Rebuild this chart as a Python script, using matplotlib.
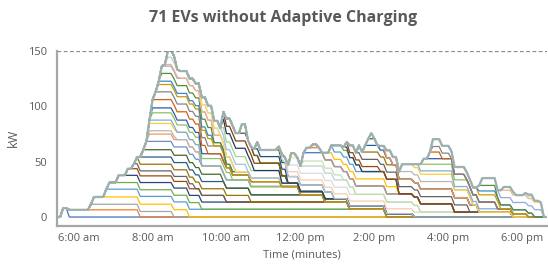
"""
Stacked charging power of each EV over one day, uncontrolled charging.
Each EV draws a fixed rate from plug-in until it is full; lines are the
running sum of EVs in arrival order, so the top line is the site total.
"""
import numpy as np
import matplotlib
matplotlib.use("Agg")
import matplotlib.pyplot as plt

# one entry per EV, in arrival order (minutes after midnight)
arrive = [333, 342, 376, 382, 403, 409, 425, 438, 447, 455,
          457, 465, 468, 471, 472, 474, 475, 476, 477, 480,
          482, 487, 488, 492, 495, 497, 501, 503, 560, 593,
          594, 595, 600, 625, 642, 650, 683, 690, 700, 702,
          705, 722, 722, 728, 738, 760, 768, 773, 790, 792,
          800, 812, 822, 830, 832, 850, 858, 882, 905, 915,
          916, 930, 933, 935, 1006, 1006, 1012, 1045, 1050, 1085,
          1090]
finish = [342, 457, 514, 540, 860, 557, 800, 600, 548, 640,
          760, 592, 720, 557, 520, 560, 518, 606, 690, 568,
          600, 579, 905, 576, 614, 522, 590, 519, 633, 690,
          645, 700, 655, 633, 698, 775, 692, 1063, 915, 810,
          712, 790, 968, 752, 746, 880, 880, 820, 798, 850,
          995, 1010, 870, 842, 840, 856, 1000, 968, 1087, 1038,
          990, 949, 963, 1045, 1098, 1036, 1112, 1114, 1070, 1096,
          1110]
power_kw = [8.0, 6.5, 5.0, 6.6, 7.0, 6.0, 6.5, 6.0, 4.5, 6.0,
            6.5, 6.6, 7.5, 6.6, 3.0, 6.6, 3.0, 6.6, 4.4, 7.5,
            7.0, 6.6, 3.0, 7.0, 6.6, 1.5, 6.5, 6.0, 6.6, 7.0,
            7.5, 6.6, 7.0, 8.0, 6.0, 6.0, 3.0, 4.4, 6.0, 6.6,
            4.0, 4.5, 7.5, 4.5, 3.0, 6.5, 6.6, 6.0, 3.0, 4.5,
            6.5, 6.6, 6.0, 6.0, 5.0, 4.0, 7.0, 6.6, 3.0, 6.0,
            5.0, 6.0, 5.0, 6.6, 3.5, 5.0, 6.6, 6.6, 3.0, 2.0,
            1.5]

tick_minutes = [360, 480, 600, 720, 840, 960, 1080]
tick_labels = ["6:00 am", "8:00 am", "10:00 am", "12:00 pm",
               "2:00 pm", "4:00 pm", "6:00 pm"]
y_ticks = [0, 50, 100, 150]
capacity_kw = 150

# Office-style series colours, cycled like a spreadsheet chart does
PALETTE = [
    "#4472C4", "#ED7D31", "#A5A5A5", "#FFC000", "#5B9BD5", "#70AD47",
    "#264478", "#9E480E", "#636363", "#997300", "#255E91", "#43682B",
    "#698ED0", "#F1975A", "#B7B7B7", "#FFCD33", "#7CAFDD", "#8CC168",
    "#335AA1", "#D26012", "#848484", "#CC9A00", "#3C86C6", "#5A8A39",
    "#8FAADC", "#F4B183", "#C9C9C9", "#FFD966", "#9DC3E6", "#A9D18E",
    "#203864", "#843C0C", "#525252", "#7F6000", "#1F4E79", "#385723",
    "#B4C7E7", "#F8CBAD", "#DBDBDB", "#FFE699", "#BDD7EE", "#C5E0B4",
]
TEXT = "#595959"
plt.rcParams["font.family"] = ["Open Sans", "DejaVu Sans"]

t_min, t_max = 325, 1120
t = np.arange(t_min, t_max + 1, 5)
arr = np.asarray(arrive)[:, None]
fin = np.asarray(finish)[:, None]
kw = np.asarray(power_kw)[:, None]
charging = (t[None, :] >= arr) & (t[None, :] < fin)
stacked = np.cumsum(charging * kw, axis=0)

fig = plt.figure(figsize=(5.48, 2.64), dpi=100)
ax = fig.add_axes([57 / 548, 38 / 264, 490 / 548, 175.3 / 264])

for i, row in enumerate(stacked[:-1]):
    ax.plot(t, row, color=PALETTE[i % len(PALETTE)], lw=0.9)
ax.plot(t, stacked[-1], color="#9DC3E6", lw=1.7)
ax.plot(t, stacked[-1], color="#A4AD98", lw=1.1)

ax.axhline(capacity_kw, color="#8C8C8C", lw=0.9, ls=(0, (3, 2)))

ax.set_xlim(t_min, t_max)
ax.set_ylim(-8.1, capacity_kw)
ax.set_xticks(tick_minutes, tick_labels)
ax.set_yticks(y_ticks)
ax.tick_params(length=0, labelsize=8, labelcolor=TEXT)
ax.tick_params(axis="x", pad=5)
ax.tick_params(axis="y", pad=7)
for side in ("top", "right"):
    ax.spines[side].set_visible(False)
for side in ("left", "bottom"):
    ax.spines[side].set_color("#A6A6A6")
    ax.spines[side].set_linewidth(1.6)

ax.set_xlabel("Time (minutes)", fontsize=8, color=TEXT, labelpad=4)
ax.set_ylabel("kW", fontsize=9, color=TEXT, labelpad=6)
fig.text(283 / 548, 1 - 18 / 264, "71 EVs without Adaptive Charging",
         ha="center", va="center", fontsize=11.5, fontweight="bold", color=TEXT)

fig.savefig("out.png", dpi=100)
